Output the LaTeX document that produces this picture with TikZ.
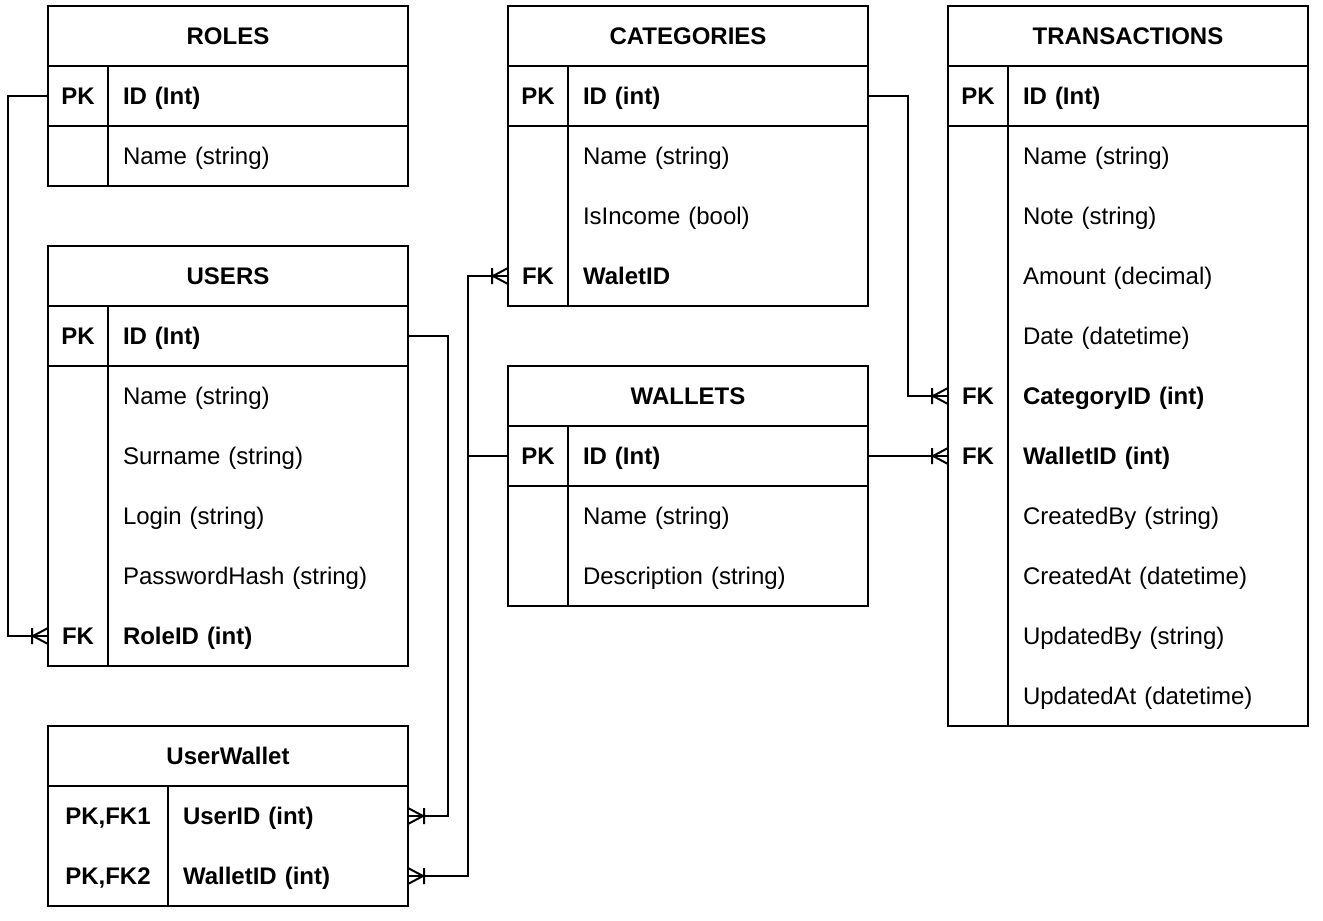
\documentclass[tikz,border=0pt]{standalone}
\usepackage{fontspec}
\setmainfont{Liberation Sans}
\usetikzlibrary{positioning}

% crow's foot with a bar: one or many
\pgfdeclarearrow{
  name = crowsfoot,
  setup code = {
    \pgfarrowssettipend{0pt}
    \pgfarrowssetlineend{0pt}
    \pgfarrowssetbackend{-16pt}
    \pgfarrowssetvisualbackend{-16pt}
    \pgfarrowshullpoint{0pt}{8pt}
    \pgfarrowshullpoint{0pt}{-8pt}
    \pgfarrowshullpoint{-16pt}{8pt}
    \pgfarrowshullpoint{-16pt}{-8pt}
  },
  drawing code = {
    \pgfsetdash{}{0pt}
    \pgfpathmoveto{\pgfqpoint{0pt}{8pt}}
    \pgfpathlineto{\pgfqpoint{-15pt}{0pt}}
    \pgfpathlineto{\pgfqpoint{0pt}{-8pt}}
    \pgfpathmoveto{\pgfqpoint{-16pt}{8pt}}
    \pgfpathlineto{\pgfqpoint{-16pt}{-8pt}}
    \pgfusepathqstroke
  }
}

\tikzset{
  regtxt/.style   = {font=\fontsize{24pt}{29pt}\selectfont},
  boldtxt/.style  = {font=\fontsize{24pt}{29pt}\selectfont\bfseries},
  tblhead/.style  = {shape=rectangle, draw, boldtxt, outer sep=0pt, inner sep=0pt,
                     minimum width=360pt, minimum height=60pt,
                     text height=22pt, text depth=5pt, anchor=north west},
  keycell/.style  = {shape=rectangle, boldtxt, outer sep=0pt, inner sep=0pt,
                     minimum width=60pt, minimum height=60pt,
                     text height=22pt, text depth=5pt},
  fieldcell/.style = {shape=rectangle, regtxt, outer sep=0pt, inner xsep=15pt, inner ysep=0pt,
                     text width=270pt, align=left, minimum height=60pt,
                     text height=22pt, text depth=5pt},
  pkrow/.style    = {draw},
  tbl/.style      = {draw},
  rel/.style      = {draw, -crowsfoot}
}

\begin{document}
\begin{tikzpicture}[x=1pt, y=-1pt, line width=2pt]
  \useasboundingbox (0,0) rectangle (1323,921);

  % ROLES
  \node [tblhead] (rolesH) at (48,6) {ROLES};
  \node [keycell, pkrow, below right=0pt of rolesH.south west] (rolesPK) {PK};
  \node [fieldcell, pkrow, boldtxt, right=0pt of rolesPK] (rolesID) {ID (Int)};
  \node [fieldcell, below=0pt of rolesID] (rolesName) {Name (string)};
  \draw [tbl] (rolesPK.south west) rectangle (rolesName.south east);
  \draw [tbl] (rolesPK.south east) -- (rolesName.south west);

  % USERS
  \node [tblhead] (usrH) at (48,246) {USERS};
  \node [keycell, pkrow, below right=0pt of usrH.south west] (usrPK) {PK};
  \node [fieldcell, pkrow, boldtxt, right=0pt of usrPK] (usrID) {ID (Int)};
  \node [fieldcell, below=0pt of usrID] (usrName) {Name (string)};
  \node [fieldcell, below=0pt of usrName] (usrSurname) {Surname (string)};
  \node [fieldcell, below=0pt of usrSurname] (usrLogin) {Login (string)};
  \node [fieldcell, below=0pt of usrLogin] (usrPass) {PasswordHash (string)};
  \node [fieldcell, boldtxt, below=0pt of usrPass] (usrRole) {RoleID (int)};
  \node [keycell, left=0pt of usrRole] (usrFK) {FK};
  \draw [tbl] (usrPK.south west) rectangle (usrRole.south east);
  \draw [tbl] (usrPK.south east) -- (usrRole.south west);

  % UserWallet
  \node [tblhead] (uwH) at (48,726) {UserWallet};
  \node [keycell, minimum width=120pt, below right=0pt of uwH.south west] (uwK1) {PK,FK1};
  \node [fieldcell, boldtxt, text width=210pt, right=0pt of uwK1] (uwUser) {UserID (int)};
  \node [keycell, minimum width=120pt, below=0pt of uwK1] (uwK2) {PK,FK2};
  \node [fieldcell, boldtxt, text width=210pt, right=0pt of uwK2] (uwWallet) {WalletID (int)};
  \draw [tbl] (uwK1.north west) rectangle (uwWallet.south east);
  \draw [tbl] (uwK1.north east) -- (uwK2.south east);

  % CATEGORIES
  \node [tblhead] (catH) at (508,6) {CATEGORIES};
  \node [keycell, pkrow, below right=0pt of catH.south west] (catPK) {PK};
  \node [fieldcell, pkrow, boldtxt, right=0pt of catPK] (catID) {ID (int)};
  \node [fieldcell, below=0pt of catID] (catName) {Name (string)};
  \node [fieldcell, below=0pt of catName] (catInc) {IsIncome (bool)};
  \node [fieldcell, boldtxt, below=0pt of catInc] (catWal) {WaletID};
  \node [keycell, left=0pt of catWal] (catFK) {FK};
  \draw [tbl] (catPK.south west) rectangle (catWal.south east);
  \draw [tbl] (catPK.south east) -- (catWal.south west);

  % WALLETS
  \node [tblhead] (walH) at (508,366) {WALLETS};
  \node [keycell, pkrow, below right=0pt of walH.south west] (walPK) {PK};
  \node [fieldcell, pkrow, boldtxt, right=0pt of walPK] (walID) {ID (Int)};
  \node [fieldcell, below=0pt of walID] (walName) {Name (string)};
  \node [fieldcell, below=0pt of walName] (walDesc) {Description (string)};
  \draw [tbl] (walPK.south west) rectangle (walDesc.south east);
  \draw [tbl] (walPK.south east) -- (walDesc.south west);

  % TRANSACTIONS
  \node [tblhead] (trH) at (948,6) {TRANSACTIONS};
  \node [keycell, pkrow, below right=0pt of trH.south west] (trPK) {PK};
  \node [fieldcell, pkrow, boldtxt, right=0pt of trPK] (trID) {ID (Int)};
  \node [fieldcell, below=0pt of trID] (trName) {Name (string)};
  \node [fieldcell, below=0pt of trName] (trNote) {Note (string)};
  \node [fieldcell, below=0pt of trNote] (trAmount) {Amount (decimal)};
  \node [fieldcell, below=0pt of trAmount] (trDate) {Date (datetime)};
  \node [fieldcell, boldtxt, below=0pt of trDate] (trCat) {CategoryID (int)};
  \node [fieldcell, boldtxt, below=0pt of trCat] (trWal) {WalletID (int)};
  \node [fieldcell, below=0pt of trWal] (trCrBy) {CreatedBy (string)};
  \node [fieldcell, below=0pt of trCrBy] (trCrAt) {CreatedAt (datetime)};
  \node [fieldcell, below=0pt of trCrAt] (trUpBy) {UpdatedBy (string)};
  \node [fieldcell, below=0pt of trUpBy] (trUpAt) {UpdatedAt (datetime)};
  \node [keycell, left=0pt of trCat] (trCatK) {FK};
  \node [keycell, left=0pt of trWal] (trWalK) {FK};
  \draw [tbl] (trPK.south west) rectangle (trUpAt.south east);
  \draw [tbl] (trPK.south east) -- (trUpAt.south west);

  % relations
  \draw [rel] (rolesPK.west) -- ++(-40,0) |- (usrFK.west);
  \draw [rel] (usrID.east) -- ++(40,0) |- (uwUser.east);
  \draw [rel] (walPK.west) -- ++(-40,0) |- (catFK.west);
  \draw [rel] (walPK.west) -- ++(-40,0) |- (uwWallet.east);
  \draw [rel] (catID.east) -- ++(40,0) |- (trCatK.west);
  \draw [rel] (walID.east) -- (trWalK.west);
\end{tikzpicture}
\end{document}
